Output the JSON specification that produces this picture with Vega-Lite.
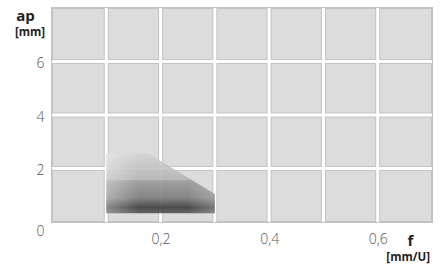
{
  "$schema": "https://vega.github.io/schema/vega-lite/v6.json",
  "width": 380,
  "height": 214,
  "autosize": {"type": "none"},
  "padding": {"left": 52, "top": 8, "right": 8, "bottom": 44},
  "background": "white",
  "config": {
    "view": {"fill": "#dcdcdc", "stroke": "#c2c2c2", "strokeWidth": 2},
    "font": "Open Sans"
  },
  "datasets": {
    "xgrid": [{"f": 0.1}, {"f": 0.2}, {"f": 0.3}, {"f": 0.4}, {"f": 0.5}, {"f": 0.6}],
    "ygrid": [{"ap": 2}, {"ap": 4}, {"ap": 6}],
    "range": [
      {"f": 0.1, "ap": 2.57, "ap_min": 0.33},
      {"f": 0.177, "ap": 2.57, "ap_min": 0.33},
      {"f": 0.3, "ap": 1.05, "ap_min": 0.33}
    ],
    "yunit": [{"f": 0, "ap": 8, "unit": "[mm]"}],
    "xunit": [{"f": 0.7, "ap": 0, "unit": "[mm/U]"}]
  },
  "layer": [
    {
      "data": {"name": "xgrid"},
      "mark": {"type": "rule", "color": "#c4c4c4", "strokeWidth": 5},
      "encoding": {
        "x": {
          "field": "f", "type": "quantitative",
          "scale": {"domain": [0, 0.7], "nice": false, "zero": false},
          "axis": {
            "values": [0.2, 0.4, 0.6],
            "labelExpr": "replace(format(datum.value, '.1f'), '.', ',')",
            "domain": false, "ticks": false, "grid": false,
            "labelFont": "Open Sans", "labelFontWeight": 300, "labelFontSize": 14, "labelColor": "#555555",
            "labelPadding": 10, "labelFlush": false,
            "title": "f", "titleFont": "Open Sans", "titleFontSize": 15, "titleFontWeight": "bold", "titleColor": "#222222",
            "titleX": 358, "titleY": 23, "titleAlign": "center", "titleBaseline": "alphabetic"
          }
        }
      }
    },
    {
      "data": {"name": "ygrid"},
      "mark": {"type": "rule", "color": "#c4c4c4", "strokeWidth": 5},
      "encoding": {
        "y": {
          "field": "ap", "type": "quantitative",
          "scale": {"domain": [0, 8], "nice": false, "zero": false},
          "axis": {
            "values": [0, 2, 4, 6],
            "domain": false, "ticks": false, "grid": false,
            "labelFont": "Open Sans", "labelFontWeight": 300, "labelFontSize": 14, "labelColor": "#555555",
            "labelPadding": 8, "labelFlush": false,
            "labelBaseline": {"condition": {"test": "datum.value == 0", "value": "top"}, "value": "middle"},
            "labelOffset": 2,
            "title": "ap", "titleFont": "Open Sans", "titleFontSize": 15, "titleFontWeight": "bold", "titleColor": "#222222",
            "titleAngle": 0, "titleX": -27, "titleY": 12, "titleAlign": "center", "titleBaseline": "alphabetic"
          }
        }
      }
    },
    {
      "data": {"name": "xgrid"},
      "mark": {"type": "rule", "color": "#ffffff", "strokeWidth": 3},
      "encoding": {"x": {"field": "f", "type": "quantitative"}}
    },
    {
      "data": {"name": "ygrid"},
      "mark": {"type": "rule", "color": "#ffffff", "strokeWidth": 3},
      "encoding": {"y": {"field": "ap", "type": "quantitative"}}
    },
    {
      "data": {"name": "range"},
      "mark": {
        "type": "area", "interpolate": "linear", "fillOpacity": 0.9,
        "color": {
          "gradient": "linear", "x1": 0, "y1": 0, "x2": 0, "y2": 1,
          "stops": [
            {"offset": 0, "color": "#d4d4d4"},
            {"offset": 0.44, "color": "#b4b4b4"},
            {"offset": 0.46, "color": "#9a9a9a"},
            {"offset": 0.75, "color": "#7a7a7a"},
            {"offset": 0.9, "color": "#3c3c3c"},
            {"offset": 1, "color": "#555555"}
          ]
        }
      },
      "encoding": {
        "x": {"field": "f", "type": "quantitative"},
        "y": {"field": "ap", "type": "quantitative"},
        "y2": {"field": "ap_min"}
      }
    },
    {
      "data": {"name": "range"},
      "mark": {
        "type": "area", "interpolate": "linear",
        "color": {
          "gradient": "linear", "x1": 0, "y1": 0, "x2": 1, "y2": 0,
          "stops": [
            {"offset": 0, "color": "rgba(255,255,255,0.35)"},
            {"offset": 0.3, "color": "rgba(255,255,255,0.0)"},
            {"offset": 0.75, "color": "rgba(255,255,255,0.0)"},
            {"offset": 1, "color": "rgba(255,255,255,0.25)"}
          ]
        }
      },
      "encoding": {
        "x": {"field": "f", "type": "quantitative"},
        "y": {"field": "ap", "type": "quantitative"},
        "y2": {"field": "ap_min"}
      }
    },
    {
      "data": {"name": "yunit"},
      "mark": {"type": "text", "font": "Open Sans", "fontWeight": "bold", "fontSize": 11.5, "color": "#222222", "align": "center", "baseline": "middle", "dx": -22, "dy": 25},
      "encoding": {
        "x": {"field": "f", "type": "quantitative"},
        "y": {"field": "ap", "type": "quantitative"},
        "text": {"field": "unit"}
      }
    },
    {
      "data": {"name": "xunit"},
      "mark": {"type": "text", "font": "Open Sans", "fontWeight": "bold", "fontSize": 11.5, "color": "#222222", "align": "right", "baseline": "alphabetic", "dx": -2, "dy": 39},
      "encoding": {
        "x": {"field": "f", "type": "quantitative"},
        "y": {"field": "ap", "type": "quantitative"},
        "text": {"field": "unit"}
      }
    }
  ]
}
